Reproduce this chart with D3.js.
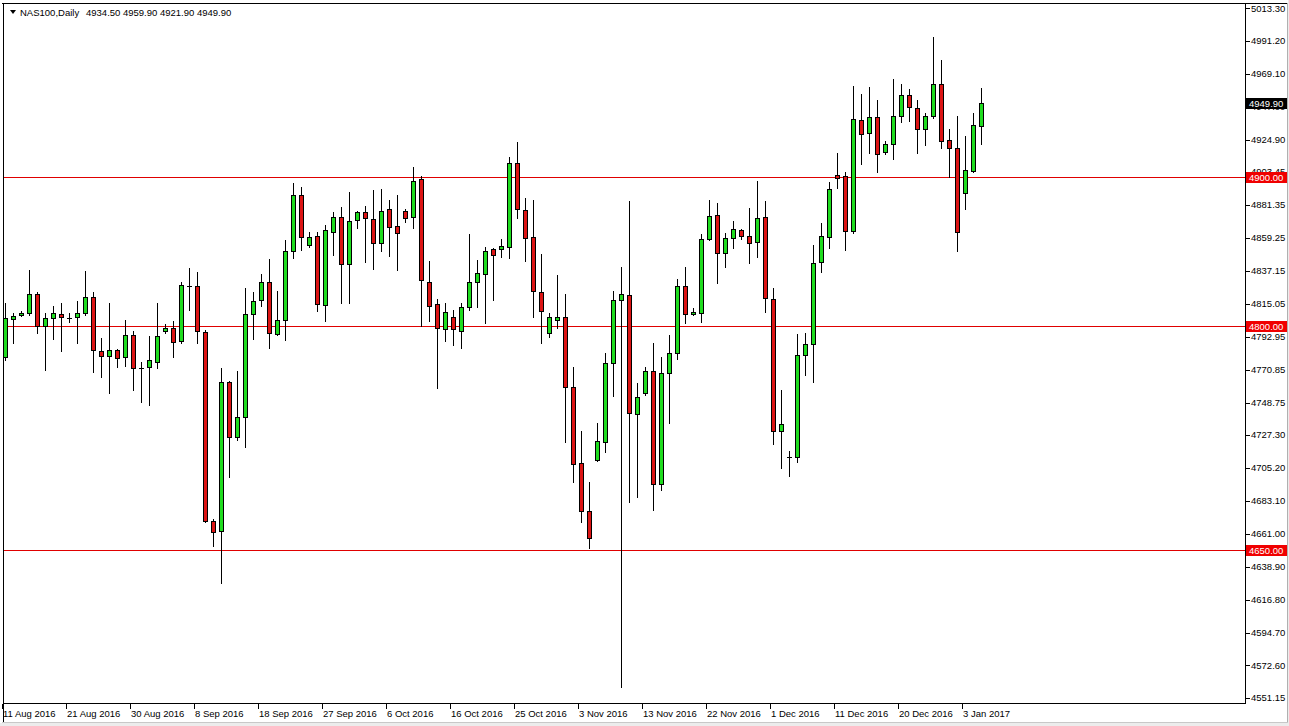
<!DOCTYPE html>
<html><head><meta charset="utf-8">
<script src="https://cdn.jsdelivr.net/npm/d3@7"></script>
<style>html,body{margin:0;padding:0;background:#fff;}svg{display:block;}</style>
</head><body>
<svg id="c" width="1289" height="726"></svg>
<script>
const symbol = "NAS100,Daily";
const dates = [
"2016-08-11","2016-08-12","2016-08-14","2016-08-15","2016-08-16","2016-08-17","2016-08-18","2016-08-19","2016-08-21","2016-08-22","2016-08-23","2016-08-24","2016-08-25","2016-08-26","2016-08-28","2016-08-29","2016-08-30","2016-08-31",
"2016-09-01","2016-09-02","2016-09-04","2016-09-05","2016-09-06","2016-09-07","2016-09-08","2016-09-09","2016-09-11","2016-09-12","2016-09-13","2016-09-14","2016-09-15","2016-09-16","2016-09-18","2016-09-19","2016-09-20","2016-09-21","2016-09-22","2016-09-23","2016-09-25","2016-09-26","2016-09-27","2016-09-28","2016-09-29","2016-09-30",
"2016-10-02","2016-10-03","2016-10-04","2016-10-05","2016-10-06","2016-10-07","2016-10-09","2016-10-10","2016-10-11","2016-10-12","2016-10-13","2016-10-14","2016-10-16","2016-10-17","2016-10-18","2016-10-19","2016-10-20","2016-10-21","2016-10-23","2016-10-24","2016-10-25","2016-10-26","2016-10-27","2016-10-28","2016-10-30","2016-10-31",
"2016-11-01","2016-11-02","2016-11-03","2016-11-04","2016-11-06","2016-11-07","2016-11-08","2016-11-09","2016-11-10","2016-11-11","2016-11-13","2016-11-14","2016-11-15","2016-11-16","2016-11-17","2016-11-18","2016-11-20","2016-11-21","2016-11-22","2016-11-23","2016-11-24","2016-11-25","2016-11-27","2016-11-28","2016-11-29","2016-11-30",
"2016-12-01","2016-12-02","2016-12-04","2016-12-05","2016-12-06","2016-12-07","2016-12-08","2016-12-09","2016-12-11","2016-12-12","2016-12-13","2016-12-14","2016-12-15","2016-12-16","2016-12-18","2016-12-19","2016-12-20","2016-12-21","2016-12-22","2016-12-23","2016-12-27","2016-12-28","2016-12-29","2016-12-30",
"2017-01-03","2017-01-04","2017-01-05"];
const open = [4779.4,4804.8,4807.5,4808.8,4821.6,4800.1,4805.5,4808.2,4805.5,4806.2,4808.8,4819.6,4783.4,4780.0,4784.1,4779.4,4794.1,4772.0,4772.7,4776.0,
4796.8,4798.8,4790.1,4826.9,4826.9,4796.1,4669.4,4662.7,4762.6,4725.7,4739.1,4808.2,4817.6,4829.6,4794.8,4804.2,4850.4,4887.9,4854.4,4860.5,
4814.2,4863.1,4873.2,4841.7,4871.2,4876.5,4871.9,4855.8,4878.6,4867.2,4877.2,4873.2,4898.7,4829.6,4814.9,4798.1,4806.2,4796.8,4812.9,4829.6,
4835.0,4851.7,4851.7,4853.1,4909.4,4877.9,4859.8,4822.9,4795.4,4804.2,4806.2,4759.3,4708.3,4676.1,4710.3,4722.4,4775.3,4817.6,4820.9,4741.2,
4755.2,4770.0,4694.2,4768.6,4782.0,4826.9,4808.2,4808.8,4858.4,4874.5,4849.1,4859.1,4864.5,4860.5,4856.4,4873.2,4818.2,4729.8,4712.3,4712.3,
4780.7,4788.1,4843.0,4859.8,4901.3,4900.7,4863.8,4938.2,4929.5,4940.2,4916.8,4922.1,4940.9,4955.0,4946.2,4932.2,4940.9,4962.3,4924.8,4919.4,
4889.3,4904.0,4934.5];
const high = [4815.6,4808.8,4810.2,4837.7,4822.9,4808.8,4813.5,4815.6,4808.8,4816.9,4837.0,4822.9,4792.1,4815.6,4784.7,4804.2,4796.8,4776.0,4793.4,4815.6,
4801.5,4803.5,4829.6,4839.0,4836.3,4797.5,4670.8,4772.0,4763.3,4770.0,4825.6,4822.9,4835.0,4845.0,4823.6,4857.8,4896.0,4893.3,4863.1,4863.1,
4867.8,4876.5,4879.9,4890.0,4877.2,4880.6,4891.3,4892.0,4884.6,4887.9,4878.6,4906.7,4900.7,4843.7,4818.2,4815.6,4810.9,4815.6,4861.8,4844.4,
4853.1,4852.4,4858.4,4913.4,4923.5,4885.9,4884.6,4848.4,4808.8,4834.3,4821.6,4772.7,4729.8,4695.6,4735.1,4782.0,4823.6,4839.7,4883.9,4761.9,
4772.7,4788.7,4779.4,4794.1,4831.6,4839.7,4812.2,4861.8,4884.6,4882.6,4862.5,4870.5,4865.2,4879.2,4897.3,4883.9,4825.6,4757.2,4716.4,4794.8,
4795.4,4854.4,4869.2,4896.6,4916.1,4903.4,4961.0,4955.6,4960.3,4951.6,4924.1,4965.7,4962.3,4959.0,4951.6,4942.9,4993.8,4978.4,4932.2,4940.9,
4927.5,4942.9,4959.9];
const low = [4777.3,4788.7,4806.8,4807.5,4795.4,4770.6,4791.4,4783.4,4802.8,4788.7,4807.5,4769.3,4766.0,4755.2,4772.7,4773.3,4757.2,4749.2,4747.2,4772.0,
4795.4,4779.4,4788.7,4810.9,4788.7,4668.8,4652.7,4627.9,4698.9,4723.7,4719.0,4791.4,4813.5,4785.4,4794.0,4790.8,4845.7,4851.1,4853.1,4810.2,
4803.5,4847.7,4815.6,4815.6,4865.8,4843.0,4838.3,4850.4,4847.1,4837.7,4869.8,4865.8,4800.1,4803.5,4758.6,4790.1,4787.4,4785.4,4810.9,4812.9,
4802.1,4817.6,4846.4,4845.7,4872.5,4843.7,4806.2,4788.7,4792.8,4798.8,4722.4,4695.6,4668.8,4651.3,4709.5,4715.7,4753.2,4558.2,4682.2,4685.5,
4753.9,4676.8,4690.2,4735.1,4778.0,4802.1,4807.5,4802.8,4857.8,4829.0,4839.7,4852.4,4858.4,4842.4,4846.4,4809.5,4721.0,4705.0,4699.6,4709.0,
4767.3,4762.6,4836.3,4852.4,4892.6,4851.1,4862.5,4908.7,4916.1,4903.4,4915.4,4912.1,4936.9,4937.5,4916.1,4921.4,4939.5,4919.4,4900.0,4850.4,
4878.6,4903.5,4921.9];
const close = [4805.5,4806.8,4808.8,4821.6,4800.1,4805.5,4808.8,4806.2,4805.2,4808.8,4819.6,4784.1,4780.0,4784.1,4778.7,4794.1,4772.0,4772.0,4777.3,4793.4,
4798.8,4789.4,4827.6,4826.9,4796.8,4669.4,4662.1,4762.6,4725.7,4739.1,4808.2,4816.9,4829.6,4795.4,4804.2,4850.4,4887.9,4859.8,4859.8,4814.9,
4864.5,4873.2,4841.7,4870.5,4876.5,4872.5,4855.8,4877.2,4866.5,4862.5,4872.5,4897.3,4831.0,4813.5,4798.8,4809.5,4798.1,4812.9,4829.6,4835.7,
4850.4,4847.7,4853.8,4909.4,4878.6,4859.1,4823.6,4810.2,4806.2,4806.2,4759.3,4707.6,4676.1,4658.0,4723.1,4775.3,4817.6,4821.6,4741.8,4752.5,
4770.0,4694.2,4768.6,4782.0,4826.9,4808.2,4809.5,4858.4,4873.9,4849.1,4859.1,4865.2,4860.5,4855.8,4872.5,4818.9,4729.8,4734.4,4712.3,4780.7,
4788.1,4842.4,4860.5,4892.0,4899.3,4863.8,4938.9,4928.8,4940.2,4915.4,4922.1,4940.9,4955.0,4946.9,4932.2,4940.9,4962.3,4924.1,4919.4,4863.1,
4904.7,4934.9,4949.9];
const priceTicks = [5013.30,4991.20,4969.10,4947.00,4924.90,4903.45,4881.35,4859.25,4837.15,4815.05,4792.95,4770.85,4748.75,4727.30,4705.20,4683.10,4661.00,4638.90,4616.80,4594.70,4572.60,4551.15];
const dateTicks = ["2016-08-11","2016-08-21","2016-08-30","2016-09-08","2016-09-18","2016-09-27","2016-10-06","2016-10-16","2016-10-25","2016-11-03","2016-11-13","2016-11-22","2016-12-01","2016-12-11","2016-12-20","2017-01-03"];
const levels = [4900.00, 4800.00, 4650.00];

const W = 1289, H = 726;
const plotL = 3, plotR = 1245, plotT = 4, plotB = 703;
const bullFill = "#1fdc1f", bearFill = "#dc1414", lineRed = "#e00000";
const FONT = "'Liberation Sans', Arial, sans-serif";

const svg = d3.select("#c");
svg.append("rect").attr("width", W).attr("height", H).attr("fill", "#fff");

const y = d3.scaleLinear().domain([4551.15, 5013.30]).range([697.5, 8]);
const x = d3.scalePoint().domain(dates).range([5.3, 981.3]);

svg.append("clipPath").attr("id", "pc").append("rect")
  .attr("x", plotL + 1).attr("y", plotT + 1).attr("width", plotR - plotL - 1).attr("height", plotB - plotT - 1);

const plot = svg.append("g").attr("clip-path", "url(#pc)").attr("shape-rendering", "crispEdges");

plot.selectAll("line.lvl").data(levels).enter().append("line")
  .attr("x1", plotL).attr("x2", plotR)
  .attr("y1", d => Math.round(y(d)) + 0.5).attr("y2", d => Math.round(y(d)) + 0.5)
  .attr("stroke", lineRed).attr("stroke-width", 1);

const data = dates.map((d, i) => ({d, o: open[i], h: high[i], l: low[i], c: close[i]}));
const g = plot.selectAll("g.cdl").data(data).enter().append("g");
const cx = d => Math.round(x(d.d));
g.append("line")
  .attr("x1", d => cx(d) + 0.5).attr("x2", d => cx(d) + 0.5)
  .attr("y1", d => Math.round(y(d.h))).attr("y2", d => Math.round(y(d.l)) + 1)
  .attr("stroke", "#000").attr("stroke-width", 1);
g.each(function(d) {
  const sel = d3.select(this);
  const yo = Math.round(y(d.o)), yc = Math.round(y(d.c));
  if (yo === yc) {
    sel.append("line").attr("x1", cx(d) - 2).attr("x2", cx(d) + 3)
      .attr("y1", yo + 0.5).attr("y2", yo + 0.5).attr("stroke", "#000");
  } else {
    const top = Math.min(yo, yc), bot = Math.max(yo, yc);
    sel.append("rect").attr("x", cx(d) - 1.5).attr("y", top + 0.5)
      .attr("width", 4).attr("height", bot - top)
      .attr("fill", d.c > d.o ? bullFill : bearFill)
      .attr("stroke", "#000").attr("stroke-width", 1);
  }
});

const fr = svg.append("g").attr("shape-rendering", "crispEdges");
fr.append("line").attr("x1", 2).attr("x2", 1287).attr("y1", 3.5).attr("y2", 3.5).attr("stroke", "#000");
fr.append("line").attr("x1", plotL + 0.5).attr("x2", plotL + 0.5).attr("y1", 3).attr("y2", 722).attr("stroke", "#000");
fr.append("line").attr("x1", plotL).attr("x2", plotR + 1).attr("y1", plotB + 0.5).attr("y2", plotB + 0.5).attr("stroke", "#000");
fr.append("line").attr("x1", plotR + 0.5).attr("x2", plotR + 0.5).attr("y1", 3).attr("y2", plotB + 1).attr("stroke", "#000");
fr.append("line").attr("x1", 1287.5).attr("x2", 1287.5).attr("y1", 3).attr("y2", 723).attr("stroke", "#b0b0b0");
fr.append("line").attr("x1", 2).attr("x2", 1288).attr("y1", 722.5).attr("y2", 722.5).attr("stroke", "#c8c8c8");
fr.append("rect").attr("x", 0).attr("y", 723).attr("width", W).attr("height", 3).attr("fill", "#ececec");
fr.append("rect").attr("x", 1288).attr("y", 0).attr("width", 1).attr("height", H).attr("fill", "#ececec");

const pa = svg.append("g");
pa.selectAll("line.pt").data(priceTicks).enter().append("line")
  .attr("shape-rendering", "crispEdges")
  .attr("x1", plotR + 1).attr("x2", plotR + 5)
  .attr("y1", d => Math.round(y(d)) + 0.5).attr("y2", d => Math.round(y(d)) + 0.5)
  .attr("stroke", "#000");
pa.selectAll("text.pt").data(priceTicks).enter().append("text")
  .attr("x", 1251).attr("y", d => y(d) + 3.5)
  .attr("font-family", FONT).attr("font-size", "9.5px").attr("fill", "#000")
  .text(d => d.toFixed(2));

const badge = (v, bg) => {
  const yy = Math.round(y(v));
  pa.append("rect").attr("x", 1246).attr("y", yy - 5).attr("width", 41).attr("height", 11)
    .attr("fill", bg).attr("shape-rendering", "crispEdges");
  pa.append("text").attr("x", 1249).attr("y", yy + 4)
    .attr("font-family", FONT).attr("font-size", "9.5px").attr("fill", "#fff").text(v.toFixed(2));
};
levels.forEach(v => badge(v, "#f00000"));
badge(close[close.length - 1], "#000");

const fmt = d3.timeFormat("%-d %b %Y"), parse = d3.timeParse("%Y-%m-%d");
const da = svg.append("g");
dateTicks.forEach(dt => {
  const tx = Math.round(x(dt)) - 2;
  da.append("line").attr("shape-rendering", "crispEdges")
    .attr("x1", tx - 0.5).attr("x2", tx - 0.5).attr("y1", plotB + 1).attr("y2", plotB + 6).attr("stroke", "#000");
  da.append("text").attr("x", tx).attr("y", 717)
    .attr("font-family", FONT).attr("font-size", "9.5px").attr("fill", "#000")
    .text(fmt(parse(dt)));
});

const last = close.length - 1;
svg.append("path").attr("d", "M10,10 L16,10 L13,14 Z").attr("fill", "#000");
svg.append("text").attr("x", 20).attr("y", 16)
  .attr("font-family", FONT).attr("font-size", "9.5px").attr("fill", "#000")
  .text(symbol);
svg.append("text").attr("x", 86).attr("y", 16)
  .attr("font-family", FONT).attr("font-size", "9.5px").attr("fill", "#000")
  .text([open[last], high[last], low[last], close[last]].map(v => v.toFixed(2)).join(" "));
</script>
</body></html>
